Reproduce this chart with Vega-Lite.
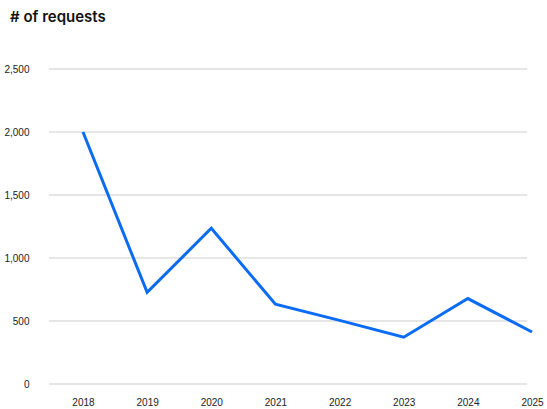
{
  "$schema": "https://vega.github.io/schema/vega-lite/v6.json",
  "width": 483,
  "height": 315,
  "autosize": {"type": "none"},
  "padding": {"left": 49, "top": 69, "right": 15, "bottom": 25},
  "background": "white",
  "title": {
    "text": "# of requests",
    "anchor": "start",
    "frame": "group",
    "dx": -39,
    "offset": 39,
    "font": "Inter",
    "fontSize": 15,
    "fontWeight": 600,
    "color": "#111111"
  },
  "config": {
    "view": {"stroke": null},
    "axis": {
      "labelFont": "Liberation Sans",
      "labelFontSize": 10,
      "labelColor": "#222222",
      "domain": false,
      "ticks": false,
      "title": null
    }
  },
  "datasets": {
    "requests": [
      {"year": 2018, "requests": 2000},
      {"year": 2019, "requests": 727},
      {"year": 2020, "requests": 1236},
      {"year": 2021, "requests": 633},
      {"year": 2022, "requests": 505},
      {"year": 2023, "requests": 371},
      {"year": 2024, "requests": 678},
      {"year": 2025, "requests": 413}
    ],
    "grid": [
      {"level": 0}, {"level": 500}, {"level": 1000},
      {"level": 1500}, {"level": 2000}, {"level": 2500}
    ]
  },
  "layer": [
    {
      "data": {"name": "grid"},
      "mark": {"type": "rule", "color": "#dedede", "strokeWidth": 1.5},
      "encoding": {
        "y": {
          "field": "level",
          "type": "quantitative",
          "scale": {"domain": [0, 2500], "nice": false},
          "axis": {
            "values": [0, 500, 1000, 1500, 2000, 2500],
            "format": ",d",
            "grid": false,
            "labelPadding": 20
          }
        },
        "x": {"datum": 2017.47, "type": "quantitative"},
        "x2": {"datum": 2024.925}
      }
    },
    {
      "data": {"name": "requests"},
      "mark": {"type": "line", "color": "#0a6cf5", "strokeWidth": 3, "strokeJoin": "miter"},
      "encoding": {
        "x": {
          "field": "year",
          "type": "quantitative",
          "scale": {"domain": [2017.47, 2025], "nice": false, "zero": false},
          "axis": {
            "values": [2018, 2019, 2020, 2021, 2022, 2023, 2024, 2025],
            "format": "d",
            "grid": false,
            "labelPadding": 13,
            "labelFlush": false
          }
        },
        "y": {"field": "requests", "type": "quantitative"}
      }
    }
  ]
}
